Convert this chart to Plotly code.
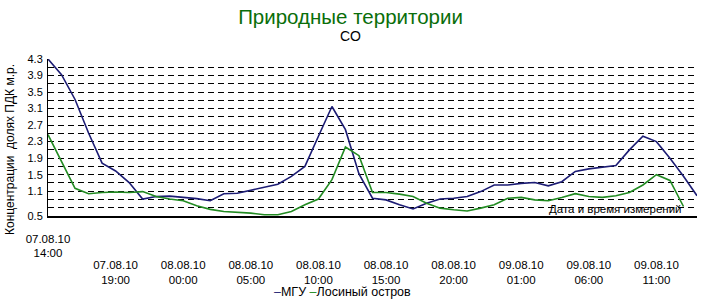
import plotly.graph_objects as go
import pandas as pd

title = "Природные территории"
subtitle = "CO"
y_title = "Концентрации\u00a0 долях ПДК м.р."
x_note = "Дата и время измерений"

times = pd.date_range("2010-08-07 14:00", "2010-08-09 14:00", freq="h")

name_mgu = "МГУ"
mgu = [4.30, 3.92, 3.32, 2.51, 1.78, 1.59, 1.31, 0.91, 0.97, 0.98,
       0.95, 0.92, 0.87, 1.04, 1.05, 1.12, 1.19, 1.27, 1.46, 1.70,
       2.43, 3.15, 2.59, 1.52, 0.93, 0.89, 0.77, 0.67, 0.81, 0.91,
       0.93, 0.97, 1.09, 1.25, 1.25, 1.29, 1.31, 1.23, 1.33, 1.58,
       1.64, 1.68, 1.72, 2.10, 2.43, 2.30, 1.90, 1.46, 0.99]

name_los = "Лосиный остров"
los = [2.47, 1.82, 1.17, 1.04, 1.07, 1.08, 1.07, 1.09, 0.97, 0.91,
       0.87, 0.75, 0.66, 0.61, 0.59, 0.57, 0.53, 0.53, 0.61, 0.77,
       0.91, 1.38, 2.17, 1.96, 1.07, 1.07, 1.03, 0.97, 0.81, 0.69,
       0.65, 0.62, 0.69, 0.77, 0.93, 0.95, 0.89, 0.87, 0.95, 1.04,
       0.97, 0.95, 0.99, 1.07, 1.25, 1.50, 1.36, 0.73]

y_labels = ["4.3", "3.9", "3.5", "3.1", "2.7", "2.3", "1.9", "1.5", "1.1", "0.5"]
y_grid = [round(0.5 + 0.2 * i, 1) for i in range(20)]
y_text = [f"{v:.1f}" if f"{v:.1f}" in y_labels else "" for v in y_grid]

x_first = [times[0]]
x_ticks = [times[i] for i in range(5, 49, 5)]

def fmt(t):
    return t.strftime("%d.%m.%y") + "<br>" + t.strftime("%H:%M")

c_mgu = "#1c1c74"
c_los = "#228b22"
c_title = "#0a6e0a"
font = "Liberation Sans, Arial, sans-serif"

W, H = 701, 301
L, R, T, B = 48, 4, 59, 85
PW, PH = W - L - R, H - T - B

def px(x):
    return (x - L) / PW

def py(y):
    return (H - B - y) / PH

fig = go.Figure()
fig.add_trace(go.Scatter(x=times, y=mgu, mode="lines", name=name_mgu,
                         line=dict(color=c_mgu, width=1.6)))
fig.add_trace(go.Scatter(x=times[:len(los)], y=los, mode="lines", name=name_los,
                         xaxis="x2", line=dict(color=c_los, width=1.6)))

fig.update_layout(
    width=W, height=H,
    margin=dict(l=L, r=R, t=T, b=B),
    paper_bgcolor="white", plot_bgcolor="white",
    showlegend=False,
    font=dict(family=font, size=12, color="black"),
    title=dict(text=title, x=0.5, xanchor="center", y=1 - 16.5 / H, yanchor="middle",
               font=dict(size=20.5, color=c_title, family=font)),
    xaxis=dict(range=[times[0], times[-1]], tickvals=x_ticks,
               ticktext=[fmt(t) for t in x_ticks], ticks="", showgrid=False,
               showline=True, linecolor="black", linewidth=1.5,
               ticklabelstandoff=37, tickfont=dict(size=11.5), zeroline=False),
    xaxis2=dict(overlaying="x", matches="x", anchor="y", side="bottom",
                tickvals=x_first, ticktext=[fmt(t) for t in x_first], ticks="",
                showgrid=False, showline=False, ticklabelstandoff=14,
                tickfont=dict(size=11.5), zeroline=False),
    yaxis=dict(range=[0.5, 4.3], tickvals=y_grid, ticktext=y_text, ticks="",
               showgrid=True, gridcolor="black", gridwidth=1, griddash="6px,4px",
               showline=True, linecolor="black", linewidth=1, zeroline=False,
               tickfont=dict(size=11), ticklabelstandoff=2),
    annotations=[
        dict(text=subtitle, x=px(350), xref="paper", xanchor="center",
             y=py(36.5), yref="paper", yanchor="middle",
             showarrow=False, font=dict(size=14, color="black")),
        dict(text=y_title, textangle=-90, x=px(10), xref="paper", xanchor="center",
             y=py(150), yref="paper", yanchor="middle", showarrow=False,
             font=dict(size=12)),
        dict(text=x_note, x=px(684), xref="paper", xanchor="right",
             y=py(209), yref="paper", yanchor="middle", showarrow=False,
             font=dict(size=11.5)),
        dict(text=f"<span style='color:{c_mgu}'>\u2013</span>{name_mgu} "
                  f"<span style='color:{c_los}'>\u2013</span>{name_los}",
             x=px(342), xref="paper", xanchor="center",
             y=py(292), yref="paper", yanchor="middle", showarrow=False,
             font=dict(size=12.5)),
    ],
)

fig.write_html("out.html")
